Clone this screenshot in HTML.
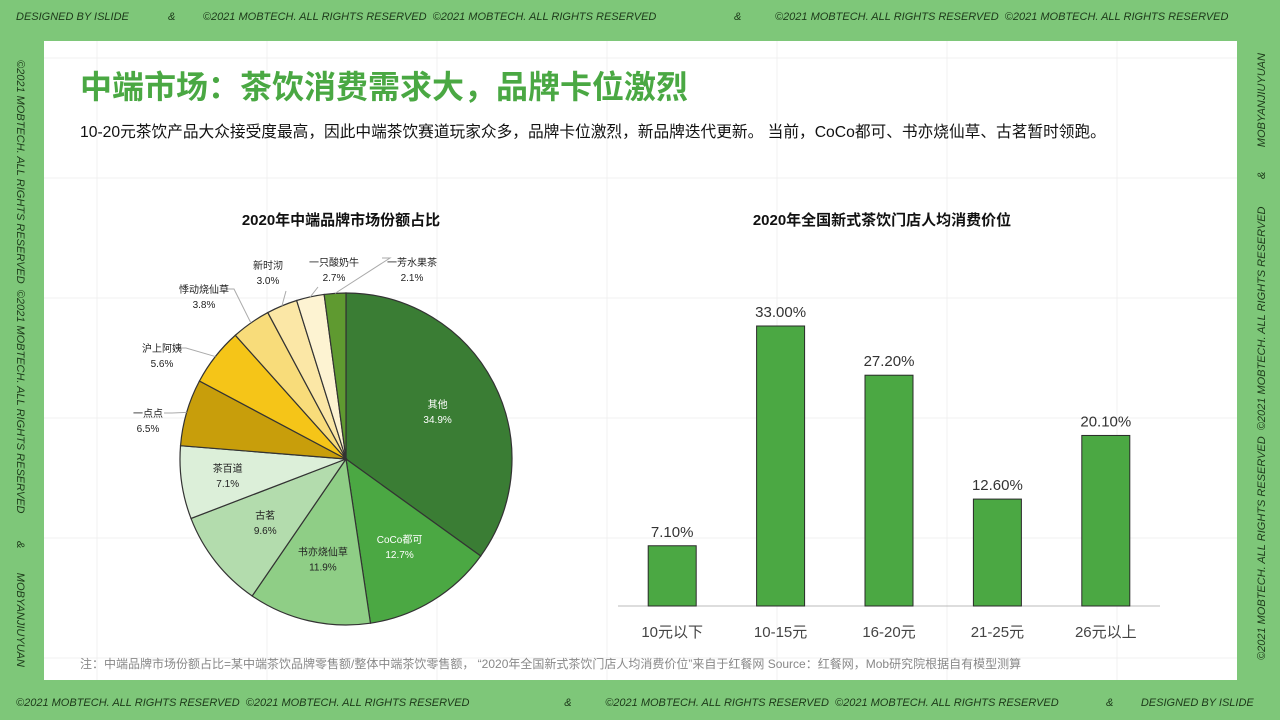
<!DOCTYPE html>
<html><head><meta charset="utf-8"><style>
body{margin:0;width:1280px;height:720px;background:#7ec779;position:relative;overflow:hidden;font-family:"Liberation Sans","Noto Sans CJK SC",sans-serif}
.f{position:absolute;font-size:11px;font-style:italic;color:#1d3a1a;white-space:nowrap}
#panel{position:absolute;left:44px;top:41px;width:1193px;height:639px;background:#fff}
</style></head><body>
<div class="f" style="left:16px;top:11px">DESIGNED BY ISLIDE</div>
<div class="f" style="left:168px;top:11px">&amp;&nbsp;&nbsp;&nbsp;&nbsp;&nbsp;&nbsp;&nbsp;&nbsp;&nbsp;©2021 MOBTECH. ALL RIGHTS RESERVED &nbsp;©2021 MOBTECH. ALL RIGHTS RESERVED</div>
<div class="f" style="left:734px;top:11px">&amp;&nbsp;&nbsp;&nbsp;&nbsp;&nbsp;&nbsp;&nbsp;&nbsp;&nbsp;&nbsp;&nbsp;©2021 MOBTECH. ALL RIGHTS RESERVED &nbsp;©2021 MOBTECH. ALL RIGHTS RESERVED</div>
<div class="f" style="left:16px;top:697px">©2021 MOBTECH. ALL RIGHTS RESERVED &nbsp;©2021 MOBTECH. ALL RIGHTS RESERVED&nbsp;&nbsp;&nbsp;&nbsp;&nbsp;&nbsp;&nbsp;&nbsp;&nbsp;&nbsp;&nbsp;&nbsp;&nbsp;&nbsp;&nbsp;&nbsp;&nbsp;&nbsp;&nbsp;&nbsp;&nbsp;&nbsp;&nbsp;&nbsp;&nbsp;&nbsp;&nbsp;&nbsp;&nbsp;&nbsp;&nbsp;&amp;&nbsp;&nbsp;&nbsp;&nbsp;&nbsp;&nbsp;&nbsp;&nbsp;&nbsp;&nbsp;&nbsp;©2021 MOBTECH. ALL RIGHTS RESERVED &nbsp;©2021 MOBTECH. ALL RIGHTS RESERVED</div>
<div class="f" style="left:1106px;top:697px">&amp;&nbsp;&nbsp;&nbsp;&nbsp;&nbsp;&nbsp;&nbsp;&nbsp;&nbsp;DESIGNED BY ISLIDE</div>
<div class="f" style="left:14px;top:60px;transform-origin:0 0;transform:rotate(90deg) translate(0,-12px)">©2021 MOBTECH. ALL RIGHTS RESERVED &nbsp;©2021 MOBTECH. ALL RIGHTS RESERVED&nbsp;&nbsp;&nbsp;&nbsp;&nbsp;&nbsp;&nbsp;&nbsp;&nbsp;&amp;&nbsp;&nbsp;&nbsp;&nbsp;&nbsp;&nbsp;&nbsp;&nbsp;MOBYANJIUYUAN</div>
<div class="f" style="left:1256px;top:660px;transform-origin:0 0;transform:rotate(-90deg)">©2021 MOBTECH. ALL RIGHTS RESERVED &nbsp;©2021 MOBTECH. ALL RIGHTS RESERVED&nbsp;&nbsp;&nbsp;&nbsp;&nbsp;&nbsp;&nbsp;&nbsp;&nbsp;&amp;&nbsp;&nbsp;&nbsp;&nbsp;&nbsp;&nbsp;&nbsp;&nbsp;MOBYANJIUYUAN</div>
<div id="panel"></div>
<svg id="s" width="1280" height="720" style="position:absolute;left:0;top:0" font-family="Liberation Sans, Noto Sans CJK SC, sans-serif">
<g stroke="#f0f0f0" stroke-width="1">
<line x1="44" y1="58" x2="1237" y2="58"/><line x1="44" y1="178" x2="1237" y2="178"/><line x1="44" y1="298" x2="1237" y2="298"/><line x1="44" y1="418" x2="1237" y2="418"/><line x1="44" y1="538" x2="1237" y2="538"/><line x1="44" y1="658" x2="1237" y2="658"/>
<line x1="97" y1="41" x2="97" y2="680"/><line x1="267" y1="41" x2="267" y2="680"/><line x1="437" y1="41" x2="437" y2="680"/><line x1="607" y1="41" x2="607" y2="680"/><line x1="777" y1="41" x2="777" y2="680"/><line x1="947" y1="41" x2="947" y2="680"/><line x1="1117" y1="41" x2="1117" y2="680"/>
</g>
<text x="80" y="98" font-size="32" font-weight="bold" fill="#4aa843">中端市场：茶饮消费需求大，品牌卡位激烈</text>
<text x="80" y="137" font-size="15.7" fill="#111">10-20元茶饮产品大众接受度最高，因此中端茶饮赛道玩家众多，品牌卡位激烈，新品牌迭代更新。 当前，CoCo都可、书亦烧仙草、古茗暂时领跑。</text>
<text x="341" y="225" font-size="15" font-weight="bold" text-anchor="middle" fill="#111">2020年中端品牌市场份额占比</text>
<text x="882" y="225" font-size="15" font-weight="bold" text-anchor="middle" fill="#111">2020年全国新式茶饮门店人均消费价位</text>
<text x="80" y="668" font-size="12" fill="#888">注：中端品牌市场份额占比=某中端茶饮品牌零售额/整体中端茶饮零售额， “2020年全国新式茶饮门店人均消费价位”来自于红餐网 Source：红餐网，Mob研究院根据自有模型测算</text>
<g id="pie"></g><g id="bars"></g>
</svg>
<script>
const brands=["其他","CoCo都可","书亦烧仙草","古茗","茶百道","一点点","沪上阿姨","悸动烧仙草","新时沏","一只酸奶牛","一芳水果茶"];
const shares=[34.9,12.7,11.9,9.6,7.1,6.5,5.6,3.8,3.0,2.7,2.1];
const colors=["#3a7d34","#4ba843","#8fce86","#b3dcad","#dcefd9","#c89e0b","#f5c518","#f8dc7a","#fbe7a6","#fdf3d2","#5f9a30"];
const cats=["10元以下","10-15元","16-20元","21-25元","26元以上"];
const vals=[7.1,33.0,27.2,12.6,20.1];
const NS="http://www.w3.org/2000/svg";
function mk(t,a,p){const e=document.createElementNS(NS,t);for(const k in a)e.setAttribute(k,a[k]);p.appendChild(e);return e;}
const outPos={5:[148,417],6:[162,352],7:[204,293],8:[268,269],9:[334,266],10:[412,266]};
const pg=document.getElementById('pie');const cx=346,cy=459,R=166;
const tot=shares.reduce((a,b)=>a+b,0);let acc=0;
const pt=(a,r)=>[cx+r*Math.sin(a),cy-r*Math.cos(a)];
shares.forEach((v,i)=>{
 const a0=acc/tot*2*Math.PI;acc+=v;const a1=acc/tot*2*Math.PI;
 const p0=pt(a0,R),p1=pt(a1,R);
 const s=mk('path',{d:`M${cx},${cy}L${p0[0]},${p0[1]}A${R},${R} 0 ${a1-a0>Math.PI?1:0} 1 ${p1[0]},${p1[1]}Z`,fill:colors[i],stroke:'#333','stroke-width':1.2},pg);
 
 
 const am=(a0+a1)/2;
 let lp;
 if(!outPos[i]){lp=pt(am,R*(v>8?0.62:0.72));lp[1]+=-4;}
 else{const e=pt(am,R);lp=outPos[i];
  let ex,ey;
  if(i>=8){ex=lp[0]+(i==10?-22:(i==9?-16:18));ey=lp[1]+(i==10?-8:(i==9?21:22));}
  else{ex=lp[0]+(i==7?30:24);ey=lp[1]-4;}
  const l=mk('polyline',{points:`${e[0]},${e[1]} ${ex},${ey} ${ex+(i>=8?(i==10?-8:0):-8)},${ey}`,fill:'none',stroke:'#aaa','stroke-width':1},pg);
  
  }
 const fc=(i<2)?'#fff':'#222';
 const t=mk('text',{x:lp[0],y:lp[1],'font-size':10,'text-anchor':'middle',fill:fc},pg);t.textContent=brands[i];
 
 
 const t2=mk('text',{x:lp[0],y:lp[1]+15,'font-size':10,'text-anchor':'middle',fill:fc},pg);t2.textContent=v.toFixed(1)+'%';
 
 
});
const bg=document.getElementById('bars');const base=606,x0=618,x1=1160,ppu=8.485,bw=48;
const step=(x1-x0)/cats.length;const xs=i=>x0+step*(i+0.5);const ys=v=>base-v*ppu;
const ax=mk('line',{x1:x0,y1:base,x2:x1,y2:base,stroke:'#bbb'},bg);


vals.forEach((v,i)=>{
 const r=mk('rect',{x:xs(i)-bw/2,y:ys(v),width:bw,height:base-ys(v),fill:'#4ba843',stroke:'#2a2a2a','stroke-width':1},bg);
 
 
 const t=mk('text',{x:xs(i),y:ys(v)-9,'font-size':15,'text-anchor':'middle',fill:'#333'},bg);t.textContent=v.toFixed(2)+'%';
 
 
 const c=mk('text',{x:xs(i),y:base+31,'font-size':15,'text-anchor':'middle',fill:'#444'},bg);c.textContent=cats[i];
 
 
});
</script>
</body></html>
